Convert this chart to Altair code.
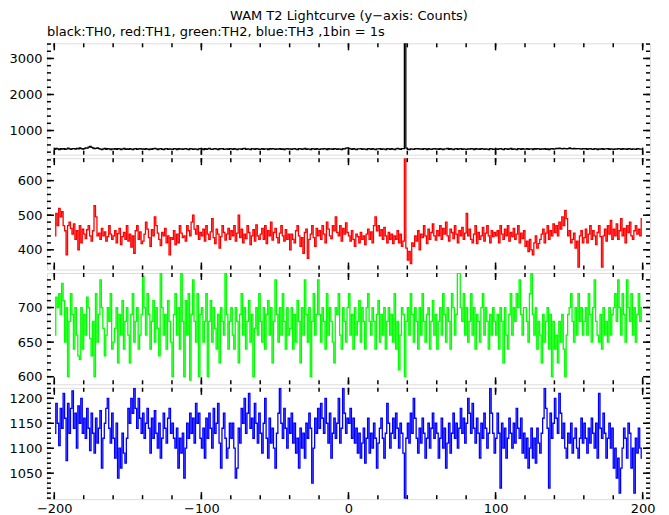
import altair as alt
import pandas as pd

FONT = "DejaVu Sans"

TITLE = "WAM T2 Lightcurve (y\u2212axis: Counts)"
SUBTITLE = "black:TH0, red:TH1, green:TH2, blue:TH3 ,1bin = 1s"

# bin start times (1 s bins)
BIN_START = -200
N_BINS = 400

black = [
480,505,490,470,495,485,500,478,492,510,488,475,500,495,482,505,490,515,498,485,
500,520,510,540,560,530,515,495,505,520,498,485,470,490,502,480,495,488,470,492,
485,500,478,495,488,470,492,505,480,490,475,498,485,470,490,500,478,488,495,482,
490,475,500,485,470,492,480,495,505,488,472,490,498,480,470,488,495,478,490,485,
478,495,488,470,500,485,492,475,488,500,482,470,495,488,478,492,485,470,490,498,
488,470,495,480,492,505,485,478,490,500,482,470,495,488,500,478,485,492,480,495,
490,478,500,485,470,492,488,480,495,505,478,490,485,470,498,488,480,495,490,478,
485,500,478,492,488,470,495,482,500,488,475,492,485,498,480,490,470,488,495,482,
492,478,490,500,485,470,495,488,480,492,505,478,490,485,470,495,488,480,498,485,
478,492,485,500,488,470,495,482,490,478,500,488,475,492,485,470,498,490,510,520,
505,490,480,495,485,470,492,488,500,478,490,485,472,495,488,480,498,485,470,492,
488,500,478,492,485,470,495,488,480,498,485,472,492,505,488,478,495,500,3420,510,
480,470,492,485,478,495,488,500,482,490,475,498,488,470,495,485,478,492,500,485,
490,478,495,485,470,492,488,505,480,495,485,472,490,498,480,488,495,478,490,485,
478,492,485,500,488,470,495,482,490,478,500,488,475,492,485,470,498,490,480,485,
492,478,490,500,485,470,495,488,480,492,505,478,490,485,470,495,488,480,498,485,
485,500,478,492,488,470,495,482,500,488,475,492,485,498,480,490,470,488,495,482,
490,505,498,510,500,492,505,495,488,500,515,498,490,505,488,495,500,492,485,498,
488,495,480,492,500,485,478,495,488,470,492,485,498,480,490,488,495,478,490,485,
480,492,485,500,488,478,495,482,490,478,500,488,475,492,485,480,498,490,482,485,
]

red = [
440,505,470,520,495,510,470,455,385,470,480,462,445,475,430,455,400,470,420,460,
445,432,458,470,440,425,455,528,495,440,448,430,462,440,452,425,438,470,445,430,
440,455,420,447,462,415,438,450,430,470,425,445,408,440,390,455,470,430,452,418,
425,445,480,460,435,410,458,440,495,470,448,430,412,450,440,462,420,440,385,435,
430,455,415,445,420,470,448,435,440,425,470,455,440,480,500,460,445,470,430,450,
440,460,425,470,445,430,452,490,435,418,460,445,405,438,470,450,428,445,462,430,
455,440,470,425,448,500,435,460,420,445,432,470,450,415,440,458,425,472,440,430,
445,462,430,470,418,455,440,480,428,450,462,435,420,448,470,440,425,458,430,445,
400,445,430,420,455,470,440,410,435,390,450,460,375,430,445,470,435,410,462,440,
455,430,470,445,420,480,460,440,432,470,455,495,450,440,470,425,462,445,478,450,
440,425,455,430,410,445,438,420,450,430,440,415,445,460,430,452,420,470,495,455,
470,440,458,430,465,440,420,450,430,445,418,440,430,455,420,445,410,425,665,405,
370,395,360,420,410,440,425,455,400,445,435,470,440,418,460,430,450,475,440,428,
455,440,470,430,462,445,480,440,425,460,450,432,470,445,420,455,440,465,430,448,
505,440,460,430,420,445,470,418,450,430,440,465,425,448,470,440,420,455,438,450,
440,455,420,470,445,430,460,440,470,425,450,438,462,430,445,470,420,448,432,455,
410,425,395,430,400,385,420,440,405,418,430,445,460,420,448,470,430,455,440,475,
450,470,440,480,460,495,470,514,490,440,455,420,430,448,405,425,350,440,455,420,
435,460,420,445,470,430,455,440,415,450,470,438,350,440,460,425,470,445,485,430,
460,440,475,430,455,490,440,462,420,470,450,480,440,430,455,470,445,460,440,490,
]

green = [
660,715,700,720,690,735,710,650,700,600,680,720,690,640,700,660,630,625,700,640,
690,660,715,700,655,630,680,600,720,650,690,740,700,670,630,660,700,680,720,640,
650,670,700,620,690,660,710,640,680,700,660,620,690,720,650,680,700,640,660,690,
745,700,660,720,690,640,680,710,650,700,670,630,750,700,660,690,640,710,680,650,
600,690,720,660,700,640,750,680,600,710,660,720,595,690,740,680,650,720,600,690,
700,650,680,720,600,680,710,650,700,670,640,690,620,700,680,660,750,690,640,680,
700,660,640,700,680,620,690,720,660,700,640,680,710,650,690,600,670,700,660,720,
680,650,700,640,690,710,660,700,620,680,740,690,650,700,660,720,680,640,700,660,
670,700,640,690,650,710,680,620,700,660,740,690,650,700,600,680,720,660,690,740,
690,650,700,680,640,720,660,700,680,650,620,700,690,720,660,640,700,680,650,700,
720,660,690,640,700,660,680,710,650,700,680,640,700,720,680,660,700,680,640,690,
710,650,690,660,700,640,680,700,660,690,650,720,640,680,610,660,700,690,600,680,
700,660,720,690,650,700,680,640,700,660,720,680,650,690,700,640,680,710,660,690,
640,680,700,660,720,690,650,700,680,640,720,700,660,690,750,750,700,680,720,660,
700,650,680,720,660,700,640,690,680,650,700,720,660,700,680,640,690,660,700,680,
660,690,640,700,680,620,700,660,640,690,720,660,700,680,720,700,740,690,660,700,
700,680,650,720,750,690,660,700,640,680,660,620,690,650,680,700,640,690,600,680,
640,660,620,680,650,690,640,600,660,690,700,720,680,650,700,660,720,680,700,660,
680,700,660,720,690,650,700,740,680,660,650,690,640,700,660,680,650,700,660,690,
700,720,680,740,700,660,720,690,650,740,700,680,720,660,700,650,690,720,680,700,
]

blue = [
1130,1190,1150,1105,1180,1140,1210,1160,1075,1190,1130,1180,1215,1140,1170,1100,1185,1150,1200,1130,
1160,1120,1180,1140,1095,1170,1130,1090,1160,1110,1140,1175,1060,1120,1150,1180,1200,1140,1110,1170,
1120,1080,1150,1040,1100,1060,1130,1090,1070,1120,1180,1150,1200,1170,1220,1180,1140,1200,1160,1130,
1170,1120,1150,1180,1140,1090,1160,1120,1175,1130,1100,1150,1080,1120,1170,1140,1110,1160,1180,1130,
1150,1120,1100,1140,1060,1120,1090,1130,1040,1100,1150,1120,1170,1130,1160,1110,1190,1150,1170,1120,
1100,1140,1080,1160,1120,1170,1140,1100,1180,1130,1150,1190,1110,1060,1140,1170,1120,1080,1100,1150,
1120,1150,1100,1040,1060,1140,1110,1180,1150,1200,1130,1170,1210,1140,1160,1120,1190,1150,1110,1170,
1130,1090,1150,1200,1120,1080,1160,1110,1140,1100,1060,1130,1170,1220,1150,1120,1180,1140,1100,1160,
1130,1170,1110,1150,1090,1120,1060,1140,1100,1130,1080,1150,1120,1170,1140,1030,1100,1160,1130,1180,
1140,1190,1160,1130,1200,1150,1110,1170,1080,1130,1160,1120,1150,1200,1110,1140,1220,1170,1130,1160,
1150,1180,1120,1160,1110,1140,1090,1130,1080,1110,1140,1070,1120,1160,1090,1130,1100,1150,1120,1060,
1110,1140,1160,1120,1080,1130,1190,1150,1100,1130,1160,1120,1170,1140,1100,1150,1130,1090,1000,1120,
1150,1110,1170,1130,1200,1160,1120,1090,1140,1110,1160,1130,1080,1120,1150,1100,1140,1170,1120,1150,
1130,1080,1120,1160,1100,1140,1060,1110,1150,1090,1130,1170,1120,1150,1100,1140,1180,1130,1160,1110,
1150,1200,1170,1130,1190,1140,1110,1160,1130,1080,1150,1120,1170,1140,1100,1130,1220,1170,1130,1090,
1120,1170,1130,1020,1150,1100,1140,1080,1120,1160,1130,1100,1150,1110,1180,1140,1120,1160,1090,1130,
1080,1120,1060,1100,1140,1080,1120,1070,1140,1110,1090,1130,1160,1220,1180,1140,1020,1170,1120,1150,
1200,1160,1130,1210,1170,1120,1150,1100,1080,1130,1110,1150,1090,1120,1140,1100,1080,1120,1160,1110,
1150,1120,1090,1140,1110,1160,1130,1100,1150,1080,1210,1140,1120,1170,1130,1080,1120,1150,1100,1140,
1060,1100,1040,1080,1010,1060,1100,1140,1120,1080,1150,1130,1060,1100,1010,1120,1090,1140,1100,1080,
]

X_DOMAIN = [-205, 205]
X_LABELS = [-200, -100, 0, 100, 200]
X_MAJOR = [-200, -100, 0, 100, 200]
X_MINOR = [-200, -180, -160, -140, -120, -100, -80, -60, -40, -20, 0,
           20, 40, 60, 80, 100, 120, 140, 160, 180, 200]

PANELS = [
    # values, colour, y-domain, labels, major ticks, minor ticks
    (black, "#000000", [330, 3420], [1000, 2000, 3000], [1000, 2000, 3000],
     [400, 600, 800, 1000, 1200, 1400, 1600, 1800, 2000, 2200, 2400, 2600, 2800, 3000, 3200, 3400]),
    (red, "#ff0000", [343, 665], [400, 500, 600], [400, 500, 600],
     [360, 380, 400, 420, 440, 460, 480, 500, 520, 540, 560, 580, 600, 620, 640, 660]),
    (green, "#00ff00", [589, 750], [600, 650, 700], [600, 650, 700],
     [590, 600, 610, 620, 630, 640, 650, 660, 670, 680, 690, 700, 710, 720, 730, 740]),
    (blue, "#0000ff", [998, 1221], [1050, 1100, 1150, 1200], [1050, 1100, 1150, 1200],
     [1000, 1010, 1020, 1030, 1040, 1050, 1060, 1070, 1080, 1090, 1100, 1110, 1120,
      1130, 1140, 1150, 1160, 1170, 1180, 1190, 1200, 1210, 1220]),
]

W = 604
H = 111.5
MAJ = 7
MIN = 4
TICK_W = 1.5

times = [BIN_START + i + 0.5 for i in range(N_BINS)]


def panel(values, color, ydom, ylabels, ymajor, yminor, show_x):
    df = pd.DataFrame({"t": times, "v": values})
    xs = alt.Scale(domain=X_DOMAIN, nice=False, zero=False)
    ys = alt.Scale(domain=ydom, nice=False, zero=False)
    if show_x:
        xaxis = alt.Axis(values=X_LABELS, title=None, domain=False, ticks=False, tickSize=0,
                         labelPadding=16, labelBaseline="bottom", labelFont=FONT,
                         labelFontSize=13, labelColor="black",
                         grid=False, labelFlush=False, format="d")
    else:
        xaxis = None
    yaxis = alt.Axis(values=ylabels, title=None, domain=False, ticks=False, tickSize=0,
                     labelPadding=5, labelFont=FONT, labelFontSize=13, labelColor="black",
                     grid=False, labelFlush=False, format="d")
    line = alt.Chart(df).mark_line(interpolate="step", clip=True, color=color, strokeWidth=1.3).encode(
        x=alt.X("t:Q", scale=xs, axis=xaxis),
        y=alt.Y("v:Q", scale=ys, axis=yaxis),
    )
    layers = [line]
    for vals, L in ((X_MAJOR, MAJ), (X_MINOR, MIN)):
        d = pd.DataFrame({"t": vals})
        base = alt.Chart(d).mark_rule(color="black", strokeWidth=TICK_W)
        layers.append(base.encode(x=alt.X("t:Q", axis=xaxis), y=alt.value(0), y2=alt.value(L)))
        layers.append(base.encode(x=alt.X("t:Q", axis=xaxis), y=alt.value(H), y2=alt.value(H - L)))
    for vals, L in ((ymajor, MAJ), (yminor, MIN)):
        d = pd.DataFrame({"v": vals})
        base = alt.Chart(d).mark_rule(color="black", strokeWidth=TICK_W)
        layers.append(base.encode(y=alt.Y("v:Q", axis=yaxis), x=alt.value(0), x2=alt.value(L)))
        layers.append(base.encode(y=alt.Y("v:Q", axis=yaxis), x=alt.value(W), x2=alt.value(W - L)))
    return alt.layer(*layers).properties(width=W, height=H)


charts = []
for i, (vals, col, dom, labs, maj, mnr) in enumerate(PANELS):
    charts.append(panel(vals, col, dom, labs, maj, mnr, i == len(PANELS) - 1))

charts[0] = charts[0].properties(
    title=alt.TitleParams(SUBTITLE, anchor="start", frame="group", font=FONT, fontSize=13,
                          fontWeight="normal", color="black", offset=4)
)

chart = alt.vconcat(*charts, spacing=0).properties(
    title=alt.TitleParams(TITLE, anchor="middle", font=FONT, fontSize=13, fontWeight="normal",
                          color="black", offset=2, dx=17),
    padding={"left": 0, "top": 1, "right": 5, "bottom": 0},
).configure_view(stroke="black", strokeWidth=2).configure(background="white")

chart.save("out.html", embed_options={"renderer": "svg", "actions": False})
